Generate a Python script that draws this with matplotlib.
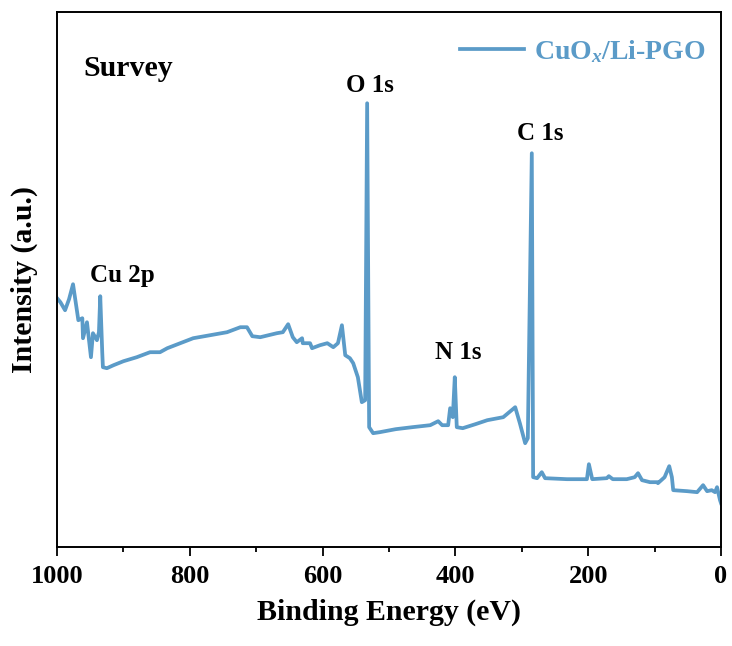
import matplotlib
matplotlib.use("Agg")
import matplotlib.pyplot as plt
from matplotlib.ticker import MultipleLocator

plt.rcParams["font.family"] = ["Liberation Serif", "DejaVu Serif"]
plt.rcParams["font.weight"] = "bold"
plt.rcParams["mathtext.fontset"] = "custom"
plt.rcParams["mathtext.rm"] = "Liberation Serif:bold"
plt.rcParams["mathtext.it"] = "Liberation Serif:italic:bold"

# XPS survey (binding energy in eV, intensity in a.u.)
energy = [1000, 995, 988, 982, 976, 972, 968, 962, 961, 955, 949, 946, 940, 937,
          935, 932, 931, 925, 915, 900, 880, 860, 845, 834, 795, 744, 724, 714,
          706, 694, 669, 660, 652, 645, 639, 631, 630, 619, 616, 604, 593, 584,
          577, 571, 566, 559, 554, 547, 541, 536, 533, 530, 524, 514, 490, 465,
          438, 426, 420, 411, 408, 404, 401, 398, 389, 370, 352, 328, 310, 303,
          295, 291, 285, 283, 277, 270, 265, 232, 202, 199, 194, 172, 169, 163,
          142, 130, 125, 119, 107, 96, 95, 85, 78, 74, 72, 51, 36, 27, 21, 14,
          9, 6, 1.5, 0]
intensity = [249, 245, 237, 248, 263, 245, 227, 229, 209, 225, 190, 214, 207, 215,
             251, 195, 180, 179, 182, 186, 190, 195, 195, 199, 209, 215, 220, 220,
             211, 210, 214, 215, 223, 210, 205, 209, 204, 204, 199, 202, 204, 200,
             204, 222, 192, 189, 184, 170, 145, 147, 444, 120, 114, 115, 118, 120,
             122, 126, 122, 122, 139, 130, 170, 120, 119, 123, 127, 130, 140, 124,
             104, 109, 394, 70, 69, 75, 69, 68, 68, 83, 68, 69, 71, 68,
             68, 70, 74, 67, 65, 65, 64, 70, 81, 70, 57, 56, 55, 62, 56, 57,
             55, 60, 47, 44]

line_color = "#5b9bc8"

fig = plt.figure(figsize=(7.32, 6.46), dpi=100)
ax = fig.add_axes([0.078, 0.153, 0.907, 0.828])

ax.plot(energy, intensity, color=line_color, lw=2.7, label="CuO$_{x}$/Li-PGO")

ax.set_xlim(1000, 0)
ax.set_ylim(0, 535)
ax.xaxis.set_major_locator(MultipleLocator(200))
ax.xaxis.set_minor_locator(MultipleLocator(100))
ax.set_yticks([])
ax.tick_params(axis="x", which="major", direction="out", length=6.5, width=1.3,
               labelsize=19, pad=6)
ax.tick_params(axis="x", which="minor", direction="out", length=3.5, width=1.3)
for s in ax.spines.values():
    s.set_linewidth(1.4)

ax.set_xlabel("Binding Energy (eV)", fontsize=21.5, fontweight="bold", labelpad=8)
ax.set_ylabel("Intensity (a.u.)", fontsize=21.5, fontweight="bold", labelpad=14)

ax.text(961, 479, "Survey", fontsize=21.5, fontweight="bold", va="center", ha="left")
ax.text(529, 462, "O 1s", fontsize=18, fontweight="bold", va="center", ha="center")
ax.text(273, 414, "C 1s", fontsize=18, fontweight="bold", va="center", ha="center")
ax.text(396, 195, "N 1s", fontsize=18, fontweight="bold", va="center", ha="center")
ax.text(901, 272, "Cu 2p", fontsize=18, fontweight="bold", va="center", ha="center")

ax.legend(loc="upper right", bbox_to_anchor=(0.997, 0.978), frameon=False,
          fontsize=20, labelcolor="linecolor",
          handlelength=2.3, handletextpad=0.35, borderaxespad=0.1)

fig.savefig("out.png", dpi=100)
